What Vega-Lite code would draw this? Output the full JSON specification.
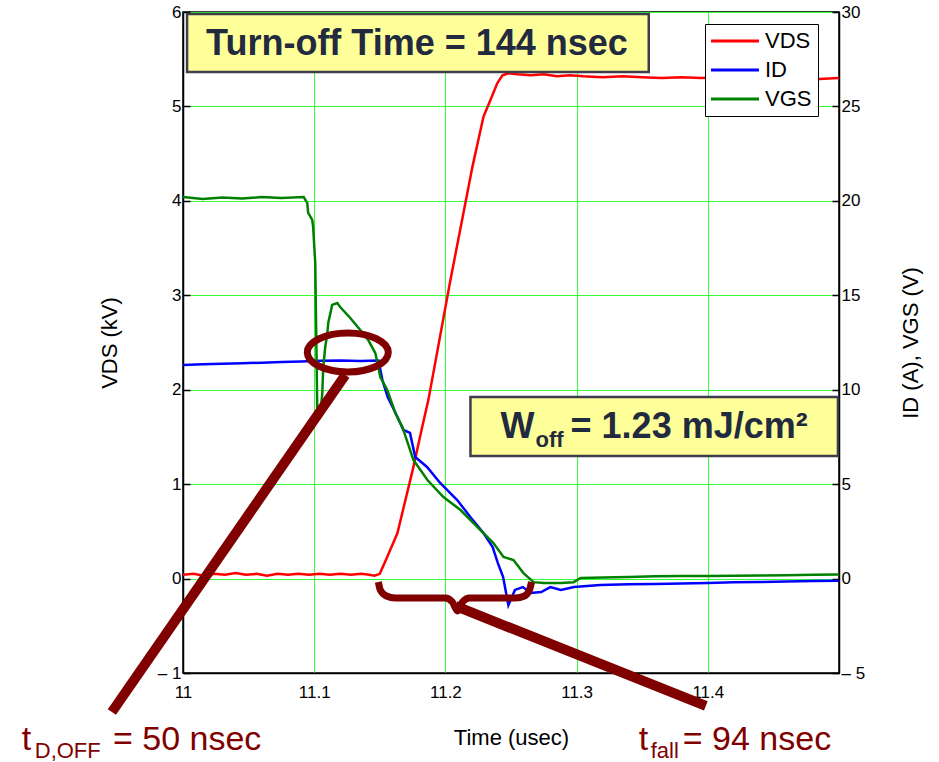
{
  "$schema": "https://vega.github.io/schema/vega-lite/v6.json",
  "width": 656,
  "height": 661,
  "autosize": "none",
  "padding": {"left": 183, "top": 12, "right": 100, "bottom": 89},
  "background": "white",
  "config": {
    "font": "Liberation Sans",
    "view": {"stroke": "black", "strokeWidth": 1.5}
  },
  "datasets": {
    "wave": [
      {"s": "VDS", "t": 11.000, "v": 0.04}, {"s": "VDS", "t": 11.008, "v": 0.05}, {"s": "VDS", "t": 11.016, "v": 0.03},
      {"s": "VDS", "t": 11.024, "v": 0.05}, {"s": "VDS", "t": 11.032, "v": 0.04}, {"s": "VDS", "t": 11.040, "v": 0.06},
      {"s": "VDS", "t": 11.048, "v": 0.04}, {"s": "VDS", "t": 11.056, "v": 0.05}, {"s": "VDS", "t": 11.064, "v": 0.03},
      {"s": "VDS", "t": 11.072, "v": 0.05}, {"s": "VDS", "t": 11.080, "v": 0.04}, {"s": "VDS", "t": 11.088, "v": 0.05},
      {"s": "VDS", "t": 11.096, "v": 0.04}, {"s": "VDS", "t": 11.104, "v": 0.05}, {"s": "VDS", "t": 11.112, "v": 0.04},
      {"s": "VDS", "t": 11.120, "v": 0.05}, {"s": "VDS", "t": 11.128, "v": 0.04}, {"s": "VDS", "t": 11.136, "v": 0.05},
      {"s": "VDS", "t": 11.142, "v": 0.04}, {"s": "VDS", "t": 11.146, "v": 0.03}, {"s": "VDS", "t": 11.150, "v": 0.05},
      {"s": "VDS", "t": 11.1557, "v": 0.23}, {"s": "VDS", "t": 11.1634, "v": 0.48}, {"s": "VDS", "t": 11.1695, "v": 0.83},
      {"s": "VDS", "t": 11.1756, "v": 1.18}, {"s": "VDS", "t": 11.1824, "v": 1.61}, {"s": "VDS", "t": 11.1870, "v": 1.89},
      {"s": "VDS", "t": 11.2038, "v": 3.16}, {"s": "VDS", "t": 11.2206, "v": 4.36}, {"s": "VDS", "t": 11.2290, "v": 4.89},
      {"s": "VDS", "t": 11.2344, "v": 5.07}, {"s": "VDS", "t": 11.2397, "v": 5.25}, {"s": "VDS", "t": 11.2435, "v": 5.33},
      {"s": "VDS", "t": 11.2481, "v": 5.35}, {"s": "VDS", "t": 11.255, "v": 5.34}, {"s": "VDS", "t": 11.265, "v": 5.33},
      {"s": "VDS", "t": 11.275, "v": 5.34}, {"s": "VDS", "t": 11.285, "v": 5.32}, {"s": "VDS", "t": 11.295, "v": 5.33},
      {"s": "VDS", "t": 11.305, "v": 5.32}, {"s": "VDS", "t": 11.320, "v": 5.31}, {"s": "VDS", "t": 11.335, "v": 5.32},
      {"s": "VDS", "t": 11.350, "v": 5.31}, {"s": "VDS", "t": 11.365, "v": 5.30}, {"s": "VDS", "t": 11.380, "v": 5.31},
      {"s": "VDS", "t": 11.395, "v": 5.30}, {"s": "VDS", "t": 11.410, "v": 5.31}, {"s": "VDS", "t": 11.425, "v": 5.30},
      {"s": "VDS", "t": 11.440, "v": 5.30}, {"s": "VDS", "t": 11.455, "v": 5.31}, {"s": "VDS", "t": 11.470, "v": 5.30},
      {"s": "VDS", "t": 11.485, "v": 5.29}, {"s": "VDS", "t": 11.500, "v": 5.30},

      {"s": "ID", "t": 11.000, "v": 11.31}, {"s": "ID", "t": 11.015, "v": 11.35}, {"s": "ID", "t": 11.030, "v": 11.38},
      {"s": "ID", "t": 11.045, "v": 11.40}, {"s": "ID", "t": 11.060, "v": 11.43}, {"s": "ID", "t": 11.075, "v": 11.47},
      {"s": "ID", "t": 11.090, "v": 11.49}, {"s": "ID", "t": 11.105, "v": 11.53}, {"s": "ID", "t": 11.120, "v": 11.55},
      {"s": "ID", "t": 11.135, "v": 11.52}, {"s": "ID", "t": 11.149, "v": 11.55}, {"s": "ID", "t": 11.152, "v": 10.51},
      {"s": "ID", "t": 11.156, "v": 9.61}, {"s": "ID", "t": 11.162, "v": 8.77}, {"s": "ID", "t": 11.168, "v": 7.87},
      {"s": "ID", "t": 11.173, "v": 7.71}, {"s": "ID", "t": 11.177, "v": 6.44}, {"s": "ID", "t": 11.186, "v": 5.91},
      {"s": "ID", "t": 11.196, "v": 5.06}, {"s": "ID", "t": 11.209, "v": 4.16}, {"s": "ID", "t": 11.219, "v": 3.26},
      {"s": "ID", "t": 11.229, "v": 2.41}, {"s": "ID", "t": 11.236, "v": 1.67}, {"s": "ID", "t": 11.240, "v": 0.82},
      {"s": "ID", "t": 11.244, "v": 0.08}, {"s": "ID", "t": 11.248, "v": -1.41}, {"s": "ID", "t": 11.253, "v": -0.60},
      {"s": "ID", "t": 11.259, "v": -0.45}, {"s": "ID", "t": 11.265, "v": -0.76}, {"s": "ID", "t": 11.273, "v": -0.71},
      {"s": "ID", "t": 11.280, "v": -0.45}, {"s": "ID", "t": 11.288, "v": -0.60}, {"s": "ID", "t": 11.298, "v": -0.45},
      {"s": "ID", "t": 11.318, "v": -0.34}, {"s": "ID", "t": 11.340, "v": -0.30}, {"s": "ID", "t": 11.360, "v": -0.29},
      {"s": "ID", "t": 11.380, "v": -0.26}, {"s": "ID", "t": 11.400, "v": -0.24}, {"s": "ID", "t": 11.420, "v": -0.20},
      {"s": "ID", "t": 11.440, "v": -0.18}, {"s": "ID", "t": 11.460, "v": -0.16}, {"s": "ID", "t": 11.480, "v": -0.13},
      {"s": "ID", "t": 11.500, "v": -0.12},

      {"s": "VGS", "t": 11.000, "v": 20.20}, {"s": "VGS", "t": 11.015, "v": 20.10}, {"s": "VGS", "t": 11.030, "v": 20.18},
      {"s": "VGS", "t": 11.045, "v": 20.12}, {"s": "VGS", "t": 11.060, "v": 20.20}, {"s": "VGS", "t": 11.075, "v": 20.15},
      {"s": "VGS", "t": 11.092, "v": 20.20}, {"s": "VGS", "t": 11.0947, "v": 19.89}, {"s": "VGS", "t": 11.0954, "v": 19.36},
      {"s": "VGS", "t": 11.0985, "v": 18.99}, {"s": "VGS", "t": 11.0992, "v": 18.62}, {"s": "VGS", "t": 11.1008, "v": 16.71},
      {"s": "VGS", "t": 11.1015, "v": 13.16}, {"s": "VGS", "t": 11.1023, "v": 9.08}, {"s": "VGS", "t": 11.1038, "v": 9.03},
      {"s": "VGS", "t": 11.1053, "v": 9.19}, {"s": "VGS", "t": 11.1061, "v": 9.72}, {"s": "VGS", "t": 11.1069, "v": 11.20},
      {"s": "VGS", "t": 11.1084, "v": 12.26}, {"s": "VGS", "t": 11.1099, "v": 12.90}, {"s": "VGS", "t": 11.1107, "v": 13.53},
      {"s": "VGS", "t": 11.1137, "v": 14.49}, {"s": "VGS", "t": 11.1176, "v": 14.59}, {"s": "VGS", "t": 11.1198, "v": 14.38},
      {"s": "VGS", "t": 11.1275, "v": 13.80}, {"s": "VGS", "t": 11.1351, "v": 13.16}, {"s": "VGS", "t": 11.1412, "v": 12.63},
      {"s": "VGS", "t": 11.1466, "v": 11.94}, {"s": "VGS", "t": 11.1504, "v": 10.67}, {"s": "VGS", "t": 11.1557, "v": 9.99},
      {"s": "VGS", "t": 11.1618, "v": 8.77}, {"s": "VGS", "t": 11.1672, "v": 8.03}, {"s": "VGS", "t": 11.1756, "v": 6.28},
      {"s": "VGS", "t": 11.1863, "v": 5.22}, {"s": "VGS", "t": 11.1985, "v": 4.32}, {"s": "VGS", "t": 11.2115, "v": 3.63},
      {"s": "VGS", "t": 11.2244, "v": 2.73}, {"s": "VGS", "t": 11.2366, "v": 1.88}, {"s": "VGS", "t": 11.2443, "v": 1.14},
      {"s": "VGS", "t": 11.2519, "v": 0.98}, {"s": "VGS", "t": 11.2595, "v": 0.29}, {"s": "VGS", "t": 11.2672, "v": -0.19},
      {"s": "VGS", "t": 11.2748, "v": -0.24}, {"s": "VGS", "t": 11.2878, "v": -0.24}, {"s": "VGS", "t": 11.2977, "v": -0.19},
      {"s": "VGS", "t": 11.3031, "v": 0.03}, {"s": "VGS", "t": 11.320, "v": 0.06}, {"s": "VGS", "t": 11.340, "v": 0.08},
      {"s": "VGS", "t": 11.360, "v": 0.12}, {"s": "VGS", "t": 11.380, "v": 0.14}, {"s": "VGS", "t": 11.400, "v": 0.14},
      {"s": "VGS", "t": 11.420, "v": 0.15}, {"s": "VGS", "t": 11.440, "v": 0.16}, {"s": "VGS", "t": 11.460, "v": 0.17},
      {"s": "VGS", "t": 11.480, "v": 0.20}, {"s": "VGS", "t": 11.500, "v": 0.22}
    ],
    "boxes": [
      {"t": 11.0031, "t2": 11.355, "v": 5.979, "v2": 5.365},
      {"t": 11.2191, "t2": 11.4992, "v": 1.923, "v2": 1.298}
    ],
    "notes": [
      {"g": "head", "t": 11.0176, "v": 5.545, "txt": "Turn-off Time = 144 nsec"},
      {"g": "head", "t": 11.2420, "v": 1.489, "txt": "W"},
      {"g": "head", "t": 11.2954, "v": 1.489, "txt": "= 1.23 mJ/cm²"},
      {"g": "headsub", "t": 11.2687, "v": 1.393, "txt": "off"},
      {"g": "red", "t": 10.8771, "v": -1.815, "txt": "t"},
      {"g": "red", "t": 10.9466, "v": -1.815, "txt": "= 50 nsec"},
      {"g": "red", "t": 11.3473, "v": -1.815, "txt": "t"},
      {"g": "red", "t": 11.3809, "v": -1.815, "txt": "= 94 nsec"},
      {"g": "redsub", "t": 10.8870, "v": -1.900, "txt": "D,OFF"},
      {"g": "redsub", "t": 11.3565, "v": -1.900, "txt": "fall"}
    ],
    "ring": [{"t": 11.1256, "v": 2.394}],
    "stems": [
      {"k": "delay", "t": 11.1237, "v": 2.156},
      {"k": "delay", "t": 10.9458, "v": -1.413},
      {"k": "fall", "t": 11.2076, "v": -0.290},
      {"k": "fall", "t": 11.3985, "v": -1.349}
    ],
    "brace": [
      {"t": 11.1489, "v": -0.036}, {"t": 11.1504, "v": -0.121}, {"t": 11.1550, "v": -0.185},
      {"t": 11.1618, "v": -0.206}, {"t": 11.2000, "v": -0.206}, {"t": 11.2053, "v": -0.249},
      {"t": 11.2092, "v": -0.343}, {"t": 11.2130, "v": -0.249}, {"t": 11.2183, "v": -0.206},
      {"t": 11.2534, "v": -0.206}, {"t": 11.2603, "v": -0.185}, {"t": 11.2641, "v": -0.121},
      {"t": 11.2656, "v": -0.036}
    ]
  },
  "encoding": {
    "x": {
      "field": "t",
      "type": "quantitative",
      "title": "Time (usec)",
      "scale": {"domain": [11, 11.5], "nice": false, "zero": false},
      "axis": {
        "values": [11, 11.1, 11.2, 11.3, 11.4],
        "format": "~g",
        "grid": true,
        "gridColor": "#33ff33",
        "gridWidth": 1,
        "gridOpacity": 1,
        "ticks": false,
        "domainColor": "black",
        "domainWidth": 1.5,
        "labelFlush": false,
        "labelOverlap": false,
        "labelPadding": 11,
        "labelFontSize": 17,
        "labelColor": "black",
        "titleFontSize": 22,
        "titleFontWeight": "normal",
        "titleColor": "black",
        "titlePadding": 27
      }
    }
  },
  "layer": [
    {
      "data": {"name": "wave"},
      "transform": [{"filter": "datum.s === 'VDS'"}],
      "mark": {"type": "line", "strokeWidth": 2.5, "interpolate": "linear"},
      "encoding": {
        "y": {
          "field": "v",
          "type": "quantitative",
          "title": "VDS (kV)",
          "scale": {"domain": [-1, 6], "nice": false, "zero": false},
          "axis": {
            "orient": "left",
            "values": [-1, 0, 1, 2, 3, 4, 5, 6],
            "grid": true,
            "gridColor": "#33ff33",
            "gridWidth": 1,
            "gridOpacity": 1,
            "tickSize": -7,
            "tickColor": "black",
            "tickWidth": 1.5,
            "domainColor": "black",
            "domainWidth": 1.5,
            "labelPadding": 9,
            "labelFontSize": 17,
            "labelColor": "black",
            "labelOverlap": false,
            "labelExpr": "datum.value < 0 ? '– ' + (-datum.value) : datum.label",
            "titleFontSize": 22,
            "titleFontWeight": "normal",
            "titleColor": "black",
            "titlePadding": 36
          }
        },
        "color": {
          "field": "s",
          "type": "nominal",
          "scale": {"domain": ["VDS", "ID", "VGS"], "range": ["#ff0000", "#0000ff", "#008000"]},
          "legend": {
            "orient": "none",
            "legendX": 522,
            "legendY": 12,
            "title": null,
            "fillColor": "white",
            "strokeColor": "black",
            "padding": 6,
            "symbolType": "M -3 0 L 3 0",
            "symbolSize": 256,
            "symbolOffset": 13,
            "symbolStrokeWidth": 3,
            "labelFontSize": 22,
            "labelColor": "black",
            "labelOffset": 19,
            "rowPadding": 7
          }
        }
      }
    },
    {
      "data": {"name": "wave"},
      "transform": [{"filter": "datum.s !== 'VDS'"}],
      "mark": {"type": "line", "strokeWidth": 2.5, "interpolate": "linear"},
      "encoding": {
        "y": {
          "field": "v",
          "type": "quantitative",
          "title": "ID (A), VGS (V)",
          "scale": {"domain": [-5, 30], "nice": false, "zero": false},
          "axis": {
            "orient": "right",
            "values": [-5, 0, 5, 10, 15, 20, 25, 30],
            "grid": false,
            "tickSize": -7,
            "tickColor": "black",
            "tickWidth": 1.5,
            "domainColor": "black",
            "domainWidth": 1.5,
            "labelPadding": 9,
            "labelFontSize": 17,
            "labelColor": "black",
            "labelOverlap": false,
            "labelExpr": "datum.value < 0 ? '– ' + (-datum.value) : datum.label",
            "titleFontSize": 22,
            "titleFontWeight": "normal",
            "titleColor": "black",
            "titleAngle": 270,
            "titleBaseline": "top",
            "titlePadding": 36
          }
        },
        "color": {"field": "s", "type": "nominal"}
      }
    },
    {
      "encoding": {
        "y": {
          "field": "v",
          "type": "quantitative",
          "scale": {"domain": [-1, 6], "nice": false, "zero": false},
          "axis": null
        }
      },
      "layer": [
        {
          "data": {"name": "boxes"},
          "mark": {"type": "rect", "fill": "#ffff99", "stroke": "#3d3d4d", "strokeWidth": 2.5},
          "encoding": {"x2": {"field": "t2"}, "y2": {"field": "v2"}}
        },
        {
          "data": {"name": "notes"},
          "transform": [{"filter": "datum.g === 'head'"}],
          "mark": {"type": "text", "align": "left", "baseline": "alphabetic", "fontSize": 36, "fontWeight": "bold", "color": "#222a40"},
          "encoding": {"text": {"field": "txt"}}
        },
        {
          "data": {"name": "notes"},
          "transform": [{"filter": "datum.g === 'headsub'"}],
          "mark": {"type": "text", "align": "left", "baseline": "alphabetic", "fontSize": 22, "fontWeight": "bold", "color": "#222a40"},
          "encoding": {"text": {"field": "txt"}}
        },
        {
          "data": {"name": "notes"},
          "transform": [{"filter": "datum.g === 'red'"}],
          "mark": {"type": "text", "align": "left", "baseline": "alphabetic", "fontSize": 34, "color": "#800000"},
          "encoding": {"text": {"field": "txt"}}
        },
        {
          "data": {"name": "notes"},
          "transform": [{"filter": "datum.g === 'redsub'"}],
          "mark": {"type": "text", "align": "left", "baseline": "alphabetic", "fontSize": 22, "color": "#800000"},
          "encoding": {"text": {"field": "txt"}}
        },
        {
          "data": {"name": "ring"},
          "mark": {
            "type": "point",
            "shape": "M -1 0 A 1 0.48 0 1 1 1 0 A 1 0.48 0 1 1 -1 0 Z",
            "size": 6561,
            "filled": false,
            "stroke": "#800000",
            "strokeWidth": 7,
            "opacity": 1
          }
        },
        {
          "data": {"name": "stems"},
          "mark": {"type": "line", "stroke": "#800000", "strokeWidth": 10, "strokeCap": "butt"},
          "encoding": {"detail": {"field": "k"}}
        },
        {
          "data": {"name": "brace"},
          "mark": {"type": "line", "stroke": "#800000", "strokeWidth": 7, "strokeCap": "butt", "strokeJoin": "round", "interpolate": "monotone"},
          "encoding": {}
        }
      ]
    }
  ],
  "resolve": {"scale": {"y": "independent"}}
}
